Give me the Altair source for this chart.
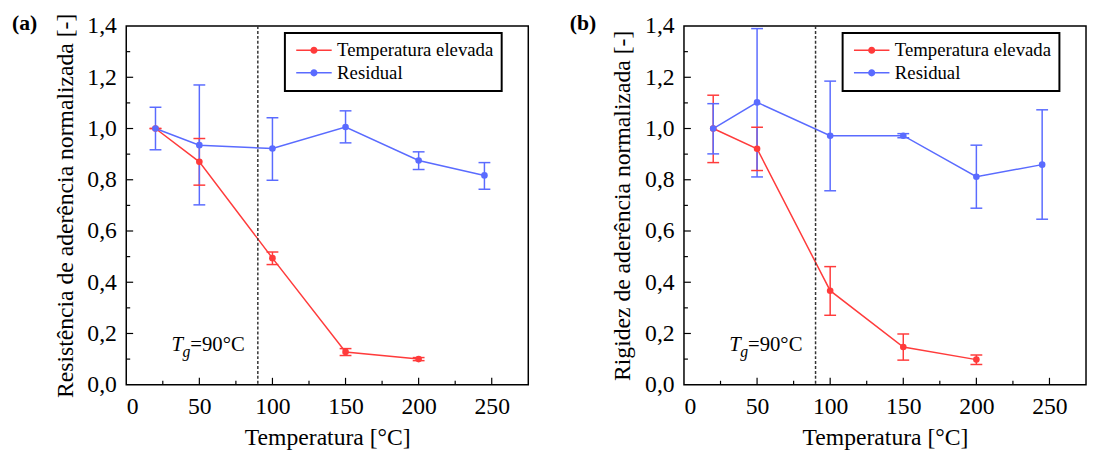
import altair as alt
import pandas as pd

# ---------------- data ----------------
series_names = ["Temperatura elevada", "Residual"]
series_colors = ["#FF3B3B", "#5A6BFF"]

temps_red = [20, 50, 100, 150, 200]
temps_blue = [20, 50, 100, 150, 200, 245]

# panel (a): Resistência de aderência normalizada
a_red = [1.0, 0.870, 0.494, 0.128, 0.100]
a_red_lo = [1.0, 0.779, 0.469, 0.114, 0.094]
a_red_hi = [1.0, 0.961, 0.518, 0.141, 0.106]
a_blue = [1.0, 0.935, 0.922, 1.006, 0.875, 0.817]
a_blue_lo = [0.917, 0.702, 0.798, 0.944, 0.840, 0.763]
a_blue_hi = [1.083, 1.170, 1.042, 1.069, 0.909, 0.867]

# panel (b): Rigidez de aderência normalizada
b_red = [1.0, 0.921, 0.367, 0.147, 0.098]
b_red_lo = [0.867, 0.836, 0.271, 0.096, 0.079]
b_red_hi = [1.130, 1.005, 0.461, 0.198, 0.116]
b_blue = [1.0, 1.102, 0.972, 0.972, 0.812, 0.859]
b_blue_lo = [0.901, 0.811, 0.757, 0.964, 0.689, 0.646]
b_blue_hi = [1.097, 1.390, 1.185, 0.980, 0.935, 1.073]

x_major = [50, 100, 150, 200, 250]
x_minor = [25, 75, 125, 175, 225]
x_labels = [0, 50, 100, 150, 200, 250]
y_major = [0.2, 0.4, 0.6, 0.8, 1.0, 1.2]
y_minor = [0.1, 0.3, 0.5, 0.7, 0.9, 1.1, 1.3]
y_labels = [0.0, 0.2, 0.4, 0.6, 0.8, 1.0, 1.2, 1.4]
tg_value = 90

W, H = 408, 364
FONT = "Liberation Serif"

# legend symbol: line segment with a dot in the middle
LEG_SYMBOL = ("M-1,-0.125L5,-0.125L5,0.125L-1,0.125Z "
              "M2.6,0A0.6,0.6 0 1,1 1.4,0A0.6,0.6 0 1,1 2.6,0Z")


def make_df(red, red_lo, red_hi, blue, blue_lo, blue_hi):
    rows = []
    for t, v, lo, hi in zip(temps_red, red, red_lo, red_hi):
        rows.append({"temp": t, "val": v, "lo": lo, "hi": hi, "serie": series_names[0]})
    for t, v, lo, hi in zip(temps_blue, blue, blue_lo, blue_hi):
        rows.append({"temp": t, "val": v, "lo": lo, "hi": hi, "serie": series_names[1]})
    return pd.DataFrame(rows)


def panel(df, ytitle, tag):
    xs = alt.Scale(domain=[0, 275], nice=False, zero=False)
    ys = alt.Scale(domain=[0, 1.4], nice=False)
    cs = alt.Scale(domain=series_names, range=series_colors)

    x_axis = alt.Axis(values=x_labels, title="Temperatura [°C]", format="d")
    y_axis = alt.Axis(values=y_labels, title=ytitle,
                      labelExpr="replace(format(datum.value, '.1f'), '.', ',')")
    legend = alt.Legend(
        title=None, orient="none", legendX=161, legendY=7,
        symbolType=LEG_SYMBOL, symbolSize=144, symbolStrokeWidth=0,
        symbolOpacity=1, labelOffset=26, labelFont=FONT, labelFontSize=19,
        labelColor="black", padding=8, rowPadding=3,
        strokeColor="black", fillColor="white",
    )
    X = lambda f: alt.X(f, scale=xs, axis=x_axis)
    Y = lambda f: alt.Y(f, scale=ys, axis=y_axis)
    C = alt.Color("serie:N", scale=cs, legend=legend)

    base = alt.Chart(df)

    tg = alt.Chart(pd.DataFrame({"tg": [tg_value]})).mark_rule(
        color="#333333", strokeDash=[3, 2], strokeWidth=1.5
    ).encode(x=X("tg:Q"))

    xt_major = alt.Chart(pd.DataFrame({"t": x_major})).mark_rule(color="black", strokeWidth=1.2).encode(
        x=X("t:Q"), y=alt.value(H), y2=alt.value(H - 7))
    xt_minor = alt.Chart(pd.DataFrame({"t": x_minor})).mark_rule(color="black", strokeWidth=1.2).encode(
        x=X("t:Q"), y=alt.value(H), y2=alt.value(H - 4))
    yt_major = alt.Chart(pd.DataFrame({"t": y_major})).mark_rule(color="black", strokeWidth=1.2).encode(
        y=Y("t:Q"), x=alt.value(0), x2=alt.value(7))
    yt_minor = alt.Chart(pd.DataFrame({"t": y_minor})).mark_rule(color="black", strokeWidth=1.2).encode(
        y=Y("t:Q"), x=alt.value(0), x2=alt.value(4))

    line = base.mark_line(strokeWidth=1.5).encode(
        x=X("temp:Q"), y=Y("val:Q"), color=C, order=alt.Order("temp:Q"),
    )
    err = base.mark_rule(strokeWidth=1.5).encode(
        x=X("temp:Q"), y=Y("lo:Q"), y2="hi:Q", color=C,
    )
    cap_lo = base.mark_tick(orient="horizontal", size=12, thickness=1.5, opacity=1).encode(
        x=X("temp:Q"), y=Y("lo:Q"), color=C,
    )
    cap_hi = base.mark_tick(orient="horizontal", size=12, thickness=1.5, opacity=1).encode(
        x=X("temp:Q"), y=Y("hi:Q"), color=C,
    )
    pts = base.mark_point(filled=True, size=45, opacity=1, shape="circle").encode(
        x=X("temp:Q"), y=Y("val:Q"), color=C,
    )

    t1 = alt.Chart(pd.DataFrame({"a": [0]})).mark_text(
        text="T", font=FONT, fontSize=21, fontStyle="italic", align="left", baseline="alphabetic",
        color="black").encode(x=alt.datum(31), y=alt.datum(0.133))
    t2 = alt.Chart(pd.DataFrame({"a": [0]})).mark_text(
        text="g", font=FONT, fontSize=16, fontStyle="italic", align="left", baseline="alphabetic",
        dx=11, dy=6, color="black").encode(x=alt.datum(31), y=alt.datum(0.133))
    t3 = alt.Chart(pd.DataFrame({"a": [0]})).mark_text(
        text="=90°C", font=FONT, fontSize=21, align="left", baseline="alphabetic",
        dx=19, color="black").encode(x=alt.datum(31), y=alt.datum(0.133))

    lab = alt.Chart(pd.DataFrame({"a": [0]})).mark_text(
        text=tag, font=FONT, fontSize=22, fontWeight="bold", align="left", baseline="alphabetic",
        color="black").encode(x=alt.value(-116), y=alt.value(4))

    return alt.layer(
        line, tg, xt_major, xt_minor, yt_major, yt_minor, err, cap_lo, cap_hi, pts, t1, t2, t3, lab
    ).properties(width=W, height=H)


pa = panel(make_df(a_red, a_red_lo, a_red_hi, a_blue, a_blue_lo, a_blue_hi),
           "Resistência de aderência normalizada [-]", "(a)")
pb = panel(make_df(b_red, b_red_lo, b_red_hi, b_blue, b_blue_lo, b_blue_hi),
           "Rigidez de aderência normalizada [-]", "(b)")

chart = alt.hconcat(pa, pb, spacing=40).resolve_legend(color="independent").properties(
    padding={"left": 3, "top": 0, "right": 0, "bottom": 0}
).configure_view(
    stroke="black", strokeWidth=1.5
).configure_axis(
    grid=False, domain=False, ticks=False, tickSize=0,
    labelFont=FONT, labelFontSize=24, labelColor="black",
    titleFont=FONT, titleFontSize=24, titleColor="black", titleFontWeight="normal",
    labelPadding=10, titlePadding=8,
).configure_axisY(
    titlePadding=10
).configure_legend(
    strokeWidth=2
).configure_text(font=FONT)

chart.save("out.html", embed_options={"renderer": "svg", "actions": False})
